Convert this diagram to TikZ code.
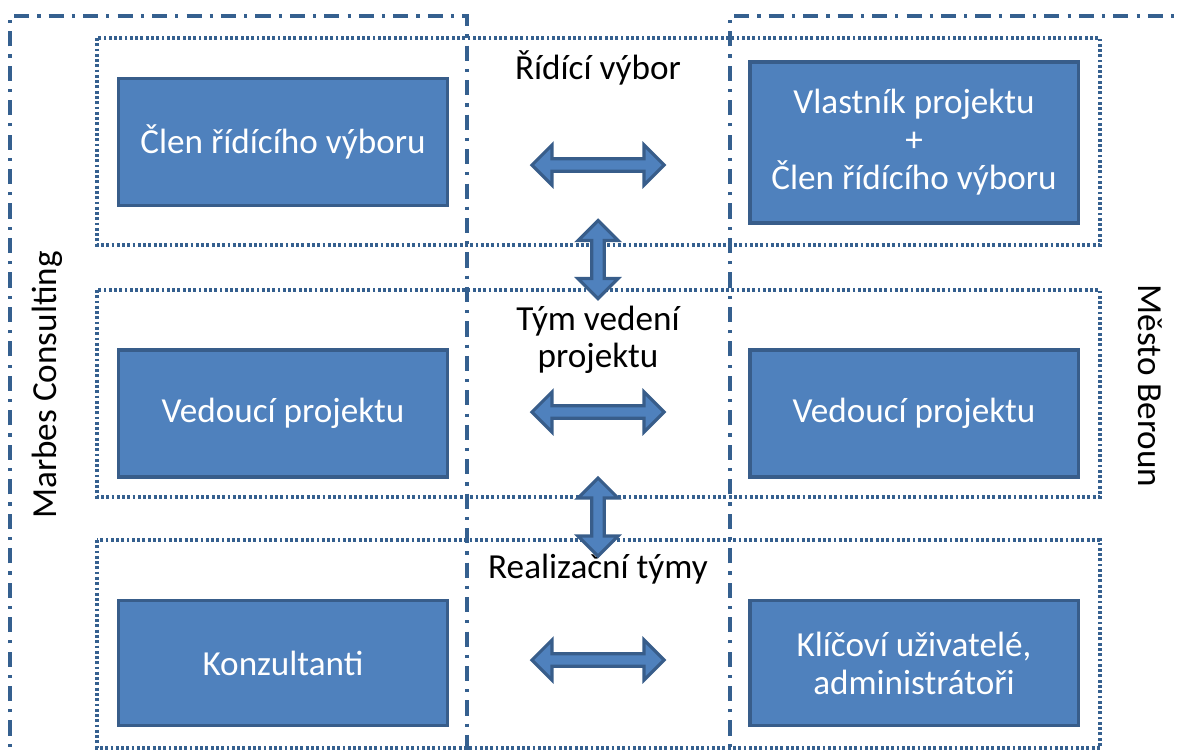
\documentclass[tikz,border=0pt]{standalone}
\usepackage{fontspec}
\setmainfont{Carlito}
\usetikzlibrary{shapes.arrows}
\definecolor{boxblue}{HTML}{4F81BD}
\definecolor{boxedge}{HTML}{385D8A}
\definecolor{lineblue}{HTML}{35608F}

\tikzset{
	party/.style={draw=lineblue, line width=0.95pt, dash pattern=on 4.3pt off 2.3pt on 0.9pt off 2.3pt},
	level/.style={draw=lineblue, line width=0.95pt, dash pattern=on 0.8pt off 0.7pt},
	unit/.style={draw=boxedge, line width=0.9pt, fill=boxblue, text=white, align=center,
		minimum width=3.28cm, minimum height=1.27cm, inner sep=0pt,
		font=\fontsize{10}{10.8}\selectfont},
	title/.style={align=center, inner sep=0pt, font=\fontsize{10}{10.4}\selectfont},
	link/.style={double arrow, draw=boxedge, line width=0.9pt, fill=boxblue,
		double arrow head extend=0.035cm, double arrow head indent=0pt,
		minimum height=1.32cm, minimum width=0.40cm, inner sep=0pt}
}

\begin{document}
\begin{tikzpicture}[x=0.01cm,y=-0.01cm]
	\useasboundingbox (0,0) rectangle (1177,753);
	\clip (0,0) rectangle (1177,753);
	% the two parties
	\draw[party] (10,770) -- (10,16) -- (467,16) -- (467,770);
	\draw[party] (730,770) -- (730,16) -- (1200,16);
	\node[title, rotate=90] (marbes) at (47,385) {Marbes Consulting};
	\node[title, rotate=-90] (beroun) at (1150,386) {Město Beroun};
	% the three levels
	\foreach \y/\h in {38/245, 290/497, 540/748}{
		\draw[level] (97,\y) rectangle (1100,\h);
	}
	\node[title] (ridici) at (598,68) {Řídící výbor};
	\node[title] (vedeni) at (598,340) {Tým vedení\\projektu};
	\node[title] (realizace) at (598,569) {Realizační týmy};
	% left and right units
	\node[unit] (clen) at (283,142) {Člen řídícího výboru};
	\node[unit, minimum height=1.61cm] (vlastnik) at (914,142.5) {Vlastník projektu\\+\\Člen řídícího výboru};
	\node[unit] (vedouciM) at (283,413.5) {Vedoucí projektu};
	\node[unit] (vedouciB) at (914,413.5) {Vedoucí projektu};
	\node[unit, minimum height=1.25cm] (konzultanti) at (283,663) {Konzultanti};
	\node[unit, minimum height=1.25cm] (uzivatele) at (914,663) {Klíčoví uživatelé,\\administrátoři};
	% arrows
	\node[link] (a1) at (598,165) {};
	\node[link] (a2) at (598,412) {};
	\node[link] (a3) at (598,660) {};
	\node[link, rotate=90, minimum height=0.78cm] (b1) at (598,259.5) {};
	\node[link, rotate=90, minimum height=0.78cm] (b2) at (598,517) {};
\end{tikzpicture}
\end{document}
